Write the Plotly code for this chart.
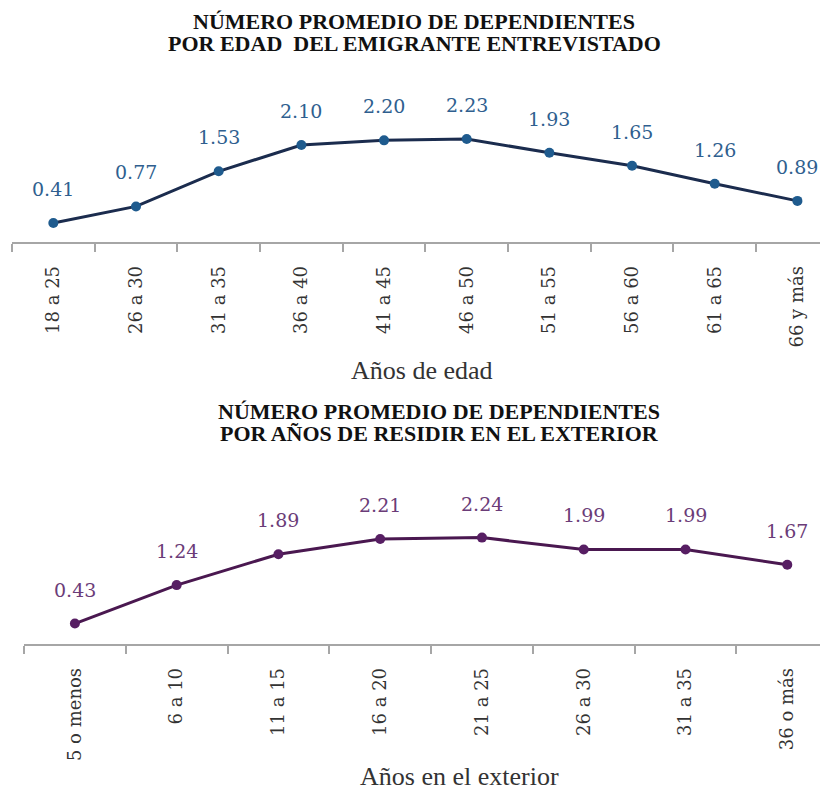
import plotly.graph_objects as go

# ---- data ----
edad_cats = ["18 a 25", "26 a 30", "31 a 35", "36 a 40", "41 a 45",
             "46 a 50", "51 a 55", "56 a 60", "61 a 65", "66 y más"]
edad_vals = [0.41, 0.77, 1.53, 2.10, 2.20, 2.23, 1.93, 1.65, 1.26, 0.89]

ext_cats = ["5 o menos", "6 a 10", "11 a 15", "16 a 20",
            "21 a 25", "26 a 30", "31 a 35", "36 o más"]
ext_vals = [0.43, 1.24, 1.89, 2.21, 2.24, 1.99, 1.99, 1.67]

title_top = ["NÚMERO PROMEDIO DE DEPENDIENTES", "POR EDAD  DEL EMIGRANTE ENTREVISTADO"]
title_bot = ["NÚMERO PROMEDIO DE DEPENDIENTES", "POR AÑOS DE RESIDIR EN EL EXTERIOR"]
xtitle_top = "Años de edad"
xtitle_bot = "Años en el exterior"

# page body has an 8px margin, so the figure is drawn 8px smaller and offset
OFF = 8
W, H = 828 - OFF, 793 - OFF
BLUE_LINE = "#1b2c4e"
BLUE_MARK = "#1f5b8e"
BLUE_TEXT = "#2f5f8f"
PURP_LINE = "#4a1850"
PURP_MARK = "#571e63"
PURP_TEXT = "#6b3c78"
SERIF = "DejaVu Serif"
TITLE_FONT = dict(family="Liberation Serif", size=22, color="#111111")
AXT_FONT = dict(family="Liberation Serif", size=26, color="#333333")

def px_(x):  # reference pixel x -> paper x
    return (x - OFF) / W

def py(y):  # reference pixel y -> paper y
    return (H - (y - OFF)) / H

fig = go.Figure()
fig.add_trace(go.Scatter(
    x=edad_cats, y=edad_vals, mode="lines+markers",
    line=dict(color=BLUE_LINE, width=3),
    marker=dict(color=BLUE_MARK, size=10),
    xaxis="x", yaxis="y", showlegend=False, cliponaxis=False))
fig.add_trace(go.Scatter(
    x=ext_cats, y=ext_vals, mode="lines+markers",
    line=dict(color=PURP_LINE, width=3),
    marker=dict(color=PURP_MARK, size=10),
    xaxis="x2", yaxis="y2", showlegend=False, cliponaxis=False))

annotations = []
for c, v in zip(edad_cats, edad_vals):
    annotations.append(dict(x=c, y=v, xref="x", yref="y", text=f"{v:.2f}",
                            showarrow=False, yshift=34,
                            xanchor="center", yanchor="middle",
                            font=dict(family=SERIF, size=19, color=BLUE_TEXT)))
for c, v in zip(ext_cats, ext_vals):
    annotations.append(dict(x=c, y=v, xref="x2", yref="y2", text=f"{v:.2f}",
                            showarrow=False, yshift=34,
                            xanchor="center", yanchor="middle",
                            font=dict(family=SERIF, size=19, color=PURP_TEXT)))

for txt, (cx, cy) in zip(title_top, [(414, 21.5), (414, 43.5)]):
    annotations.append(dict(x=px_(cx), y=py(cy), xref="paper", yref="paper",
                            text=f"<b>{txt}</b>", showarrow=False,
                            xanchor="center", yanchor="middle", font=TITLE_FONT))
for txt, (cx, cy) in zip(title_bot, [(439, 411.5), (439, 433.5)]):
    annotations.append(dict(x=px_(cx), y=py(cy), xref="paper", yref="paper",
                            text=f"<b>{txt}</b>", showarrow=False,
                            xanchor="center", yanchor="middle", font=TITLE_FONT))

annotations.append(dict(x=px_(421.5), y=py(370), xref="paper", yref="paper",
                        text=xtitle_top, showarrow=False,
                        xanchor="center", yanchor="middle", font=AXT_FONT))
annotations.append(dict(x=px_(459), y=py(776), xref="paper", yref="paper",
                        text=xtitle_bot, showarrow=False,
                        xanchor="center", yanchor="middle", font=AXT_FONT))

xaxis_common = dict(
    type="category", showgrid=False, zeroline=False,
    showline=True, linecolor="#a6a6a6", linewidth=1.5,
    ticks="outside", tickson="boundaries", ticklen=8, tickcolor="#a6a6a6", tickwidth=1.5,
    tickangle=-90, ticklabelstandoff=15,
    tickfont=dict(family=SERIF, size=18, color="#333333"),
)
yaxis_common = dict(visible=False, range=[0, 3], showgrid=False, zeroline=False)

fig.update_layout(
    width=W, height=H,
    margin=dict(l=0, r=0, t=0, b=0),
    paper_bgcolor="white", plot_bgcolor="white",
    xaxis=dict(xaxis_common, domain=[px_(12), 1], range=[-0.5, 9.37], anchor="y"),
    yaxis=dict(yaxis_common, domain=[py(242), py(242 - 3 * 46.2)], anchor="x"),
    xaxis2=dict(xaxis_common, domain=[px_(24), 1], range=[-0.5, 7.4], anchor="y2"),
    yaxis2=dict(yaxis_common, domain=[py(644), py(644 - 3 * 47.5)], anchor="x2"),
    annotations=annotations,
)

fig.write_html("out.html")
